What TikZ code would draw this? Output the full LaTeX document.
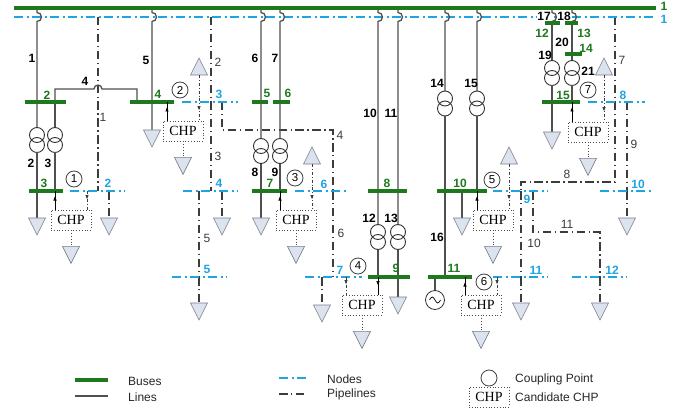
\documentclass[tikz,border=0pt]{standalone}
\usepackage{fontspec}
\setmainfont{Liberation Sans}
\newfontfamily\chpfont{Liberation Serif}
\usetikzlibrary{arrows.meta,decorations.markings}

\definecolor{busgreen}{RGB}{30,120,30}
\definecolor{nodeblue}{RGB}{28,165,225}
\definecolor{pipegray}{RGB}{60,60,60}
\definecolor{linegray}{RGB}{80,80,80}
\definecolor{loadfill}{RGB}{220,226,238}
\definecolor{loaddraw}{RGB}{120,126,138}

\begin{document}
\begin{tikzpicture}[x=1pt,y=-1pt,
  bus/.style={busgreen,line width=3.2pt},
  eline/.style={linegray,line width=1.3pt},
  gnode/.style={nodeblue,line width=2.2pt,dash pattern=on 9pt off 3.5pt on 2pt off 3.5pt},
  pipe/.style={pipegray,line width=1.4pt,dash pattern=on 8.5pt off 3.5pt on 1.4pt off 3.5pt},
  lno/.style={font=\fontsize{12}{13}\selectfont\bfseries,inner sep=0pt},
  bno/.style={lno,text=busgreen},
  gno/.style={lno,text=nodeblue},
  pno/.style={font=\fontsize{12}{13}\selectfont,text=pipegray,inner sep=0pt},
  cpl/.style={draw=black!75,line width=0.8pt,circle,minimum size=16pt,inner sep=0pt,font=\fontsize{11.5}{12}\selectfont},
  chp/.style={draw=black!70,dotted,line width=0.8pt,minimum width=40pt,minimum height=20pt,inner sep=0pt,font=\chpfont\fontsize{14}{14}\selectfont},
  efeed/.style={black,line width=0.6pt,postaction={decorate},
    decoration={markings,mark=at position #1 with {\arrow{Latex[length=4.5pt,width=3.5pt]}}}},
  efeed/.default=-5pt,
  gfeed/.style={pipegray,line width=0.8pt,dash pattern=on 3pt off 2pt on 0.8pt off 2pt,postaction={decorate},
    decoration={markings,mark=at position #1 with {\arrow{Latex[length=4.5pt,width=3.5pt]}}}},
  gfeed/.default=-10pt,
  chpout/.style={black!70,line width=0.8pt,dotted},
  leg/.style={font=\fontsize{12}{13}\selectfont,text=black!85,anchor=west,inner sep=0pt},
  dload/.pic={\draw[loaddraw,fill=loadfill,line width=0.6pt] (-8.5,0) -- (8.5,0) -- (0,17) -- cycle;},
  uload/.pic={\draw[loaddraw,fill=loadfill,line width=0.6pt] (-8.5,0) -- (8.5,0) -- (0,-17) -- cycle;},
  trafo/.pic={\draw[black!80,line width=0.9pt] (0,-5) circle[radius=7.5] (0,5) circle[radius=7.5];}
]
\useasboundingbox (0,0) rectangle (688,409);

% gas pipelines
\draw[pipe] (98,17) -- (98,191);
\draw[pipe] (211,17) -- (211,102);
\draw[pipe] (211,102) -- (211,191);
\draw[pipe] (222,102) -- (222,130) -- (333,130) -- (333,191);
\draw[pipe] (199,191) -- (199,277);
\draw[pipe] (333,191) -- (333,277);
\draw[pipe] (615,17) -- (615,102);
\draw[pipe] (615,102) -- (615,182) -- (521,182) -- (521,191);
\draw[pipe] (627,102) -- (627,191);
\draw[pipe] (521,191) -- (521,277);
\draw[pipe] (533,191) -- (533,232) -- (600,232) -- (600,277);

% gas loads
\draw[pipe] (109,191) -- (109,218);
\pic at (109,218) {dload};
\draw[pipe] (222,191) -- (222,218);
\pic at (222,218) {dload};
\draw[pipe] (199,277) -- (199,303);
\pic at (199,303) {dload};
\draw[pipe] (322,277) -- (322,305);
\pic at (322,305) {dload};
\draw[pipe] (627,191) -- (627,218);
\pic at (627,218) {dload};
\draw[pipe] (521,277) -- (521,303);
\pic at (521,303) {dload};
\draw[pipe] (600,277) -- (600,303);
\pic at (600,303) {dload};

% gas nodes
\draw[gnode] (14,17) -- (656,17);
\draw[gnode] (70,191) -- (125,191);
\draw[gnode] (182,102) -- (238,102);
\draw[gnode] (183,191) -- (238,191);
\draw[gnode] (172,277) -- (227,277);
\draw[gnode] (295,191) -- (348,191);
\draw[gnode] (305,277) -- (362,277);
\draw[gnode] (588,102) -- (645,102);
\draw[gnode] (493,191) -- (548,191);
\draw[gnode] (600,191) -- (653,191);
\draw[gnode] (493,277) -- (548,277);
\draw[gnode] (572,277) -- (627,277);

% electric lines
\draw[eline] (37,8) -- (37,12.5) arc[start angle=-90,end angle=90,radius=4.5] -- (37,127.5);
\pic at (37,140) {trafo};
\draw[eline] (37,152.5) -- (37,218);
\pic at (37,218) {dload};
\draw[eline] (55,102) -- (55,127.5);
\pic at (55,140) {trafo};
\draw[eline] (55,152.5) -- (55,191);
\draw[eline] (55,102) -- (55,89) -- (94,89) arc[start angle=180,end angle=360,radius=4] -- (137,89) -- (137,102);

\draw[eline] (152,8) -- (152,12.5) arc[start angle=-90,end angle=90,radius=4.5] -- (152,130);
\pic at (152,130) {dload};

\draw[eline] (261,8) -- (261,12.5) arc[start angle=-90,end angle=90,radius=4.5] -- (261,138.5);
\pic at (261,151) {trafo};
\draw[eline] (261,163.5) -- (261,218);
\pic at (261,218) {dload};
\draw[eline] (280,8) -- (280,12.5) arc[start angle=-90,end angle=90,radius=4.5] -- (280,138.5);
\pic at (280,151) {trafo};
\draw[eline] (280,163.5) -- (280,191);

\draw[eline] (378,8) -- (378,12.5) arc[start angle=-90,end angle=90,radius=4.5] -- (378,224.5);
\pic at (378,237) {trafo};
\draw[eline] (378,249.5) -- (378,277);
\draw[eline] (398,8) -- (398,12.5) arc[start angle=-90,end angle=90,radius=4.5] -- (398,224.5);
\pic at (398,237) {trafo};
\draw[eline] (398,249.5) -- (398,297);
\pic at (398,297) {dload};

\draw[eline] (445,8) -- (445,12.5) arc[start angle=-90,end angle=90,radius=4.5] -- (445,91);
\pic at (445,103.5) {trafo};
\draw[eline] (445,116) -- (445,277);
\draw[eline] (477,8) -- (477,12.5) arc[start angle=-90,end angle=90,radius=4.5] -- (477,91);
\pic at (477,103.5) {trafo};
\draw[eline] (477,116) -- (477,191);
\draw[eline] (462,191) -- (462,218);
\pic at (462,218) {dload};

\node[draw=black!80,circle,line width=0.8pt,minimum size=19pt,inner sep=0pt] (gen) at (435,300) {};
\draw[eline] (435,277) -- (gen.north);
\draw[line width=0.7pt] ([xshift=-5.5pt]gen.center) sin ++(2.75,-3) cos ++(2.75,3) sin ++(2.75,3) cos ++(2.75,-3);

\draw[eline] (552,8) -- (552,12.5) arc[start angle=-90,end angle=90,radius=4.5] -- (552,23);
\draw[eline] (572,8) -- (572,12.5) arc[start angle=-90,end angle=90,radius=4.5] -- (572,23);
\draw[eline] (552,23) -- (552,60.5);
\pic at (552,73) {trafo};
\draw[eline] (552,85.5) -- (552,132);
\pic at (552,132) {dload};
\draw[eline] (572,23) -- (572,60.5);
\pic at (572,73) {trafo};
\draw[eline] (572,85.5) -- (572,102);

% buses
\draw[bus] (14,8) -- (656,8);
\draw[bus] (25,102) -- (66,102);
\draw[bus] (29,191) -- (63,191);
\draw[bus] (130,102) -- (174,102);
\draw[bus] (252,102) -- (268,102);
\draw[bus] (273,102) -- (290,102);
\draw[bus] (252,191) -- (287,191);
\draw[bus] (368,191) -- (407,191);
\draw[bus] (368,277) -- (410,277);
\draw[bus] (437,191) -- (487,191);
\draw[bus] (428,277) -- (472,277);
\draw[bus] (545,23) -- (560,23);
\draw[bus] (565,23) -- (578,23);
\draw[bus] (565,54) -- (582,54);
\draw[bus] (542,102) -- (580,102);

% candidate CHPs
\node[chp] (chp1) at (71,220) {CHP};
\node[chp] (chp2) at (183,131) {CHP};
\node[chp] (chp3) at (296,220) {CHP};
\node[chp] (chp4) at (362,305) {CHP};
\node[chp] (chp5) at (493,220) {CHP};
\node[chp] (chp6) at (481,305) {CHP};
\node[chp] (chp7) at (588,132) {CHP};

\coordinate (e1) at (55,191);
\coordinate (e2) at (167,102);
\coordinate (e3) at (280,191);
\coordinate (e4) at (378,277);
\coordinate (e5) at (477,191);
\coordinate (e6) at (465,277);
\coordinate (e7) at (572,102);
\coordinate (g1) at (87,191);
\coordinate (g2) at (199,75);
\coordinate (g3) at (312,164);
\coordinate (g4) at (346,277);
\coordinate (g5) at (509,164);
\coordinate (g6) at (497,277);
\coordinate (g7) at (604,75);

\draw[efeed] (e1 |- chp1.north) -- (e1);
\draw[efeed] (e2 |- chp2.north) -- (e2);
\draw[efeed] (e3 |- chp3.north) -- (e3);
\draw[efeed=-9pt] (e4) -- (e4 |- chp4.north);
\draw[efeed] (e5 |- chp5.north) -- (e5);
\draw[efeed] (e6 |- chp6.north) -- (e6);
\draw[efeed] (e7 |- chp7.north) -- (e7);

\pic at (g2) {uload};
\pic at (g3) {uload};
\pic at (g5) {uload};
\pic at (g7) {uload};
\draw[gfeed] (g1) -- (g1 |- chp1.north);
\draw[gfeed] (g2) -- (g2 |- chp2.north);
\draw[gfeed] (g3) -- (g3 |- chp3.north);
\draw[gfeed] (g4) -- (g4 |- chp4.north);
\draw[gfeed] (g5) -- (g5 |- chp5.north);
\draw[gfeed] (g6) -- (g6 |- chp6.north);
\draw[gfeed] (g7) -- (g7 |- chp7.north);

\draw[chpout] (chp1.south) -- ++(0,16) coordinate (o1);
\pic at (o1) {dload};
\draw[chpout] (chp2.south) -- ++(0,16) coordinate (o2);
\pic at (o2) {dload};
\draw[chpout] (chp3.south) -- ++(0,16) coordinate (o3);
\pic at (o3) {dload};
\draw[chpout] (chp4.south) -- ++(0,16) coordinate (o4);
\pic at (o4) {dload};
\draw[chpout] (chp5.south) -- ++(0,16) coordinate (o5);
\pic at (o5) {dload};
\draw[chpout] (chp6.south) -- ++(0,16) coordinate (o6);
\pic at (o6) {dload};
\draw[chpout] (chp7.south) -- ++(0,16) coordinate (o7);
\pic at (o7) {dload};

% coupling points
\node[cpl] (cp1) at (74,179) {1};
\node[cpl] (cp2) at (180,90) {2};
\node[cpl] (cp3) at (295,178) {3};
\node[cpl] (cp4) at (358,266) {4};
\node[cpl] (cp5) at (492,180) {5};
\node[cpl] (cp6) at (484,282) {6};
\node[cpl] (cp7) at (588,90) {7};

% line numbers
\node[lno] (ln1) at (32,58) {1};
\node[lno] (ln2) at (31,163) {2};
\node[lno] (ln3) at (48,163) {3};
\node[lno] (ln4) at (85,81) {4};
\node[lno] (ln5) at (146,60) {5};
\node[lno] (ln6) at (255,58) {6};
\node[lno] (ln7) at (275,58) {7};
\node[lno] (ln8) at (255,172) {8};
\node[lno] (ln9) at (275,172) {9};
\node[lno] (ln10) at (370,113) {10};
\node[lno] (ln11) at (391,113) {11};
\node[lno] (ln12) at (369,218) {12};
\node[lno] (ln13) at (391,218) {13};
\node[lno] (ln14) at (437,83) {14};
\node[lno] (ln15) at (471,83) {15};
\node[lno] (ln16) at (437,237) {16};
\node[lno,fill=white,inner sep=0.5pt] (ln17) at (544,16) {17};
\node[lno,fill=white,inner sep=0.5pt] (ln18) at (564,16) {18};
\node[lno] (ln19) at (545,55) {19};
\node[lno] (ln20) at (562,42) {20};
\node[lno] (ln21) at (588,71) {21};

% bus numbers
\node[bno] (bn1) at (664,6) {1};
\node[bno] (bn2) at (47,95) {2};
\node[bno] (bn3) at (44,183) {3};
\node[bno] (bn4) at (158,94) {4};
\node[bno] (bn5) at (267,93) {5};
\node[bno] (bn6) at (288,93) {6};
\node[bno] (bn7) at (270,183) {7};
\node[bno] (bn8) at (387,183) {8};
\node[bno] (bn9) at (396,268) {9};
\node[bno] (bn10) at (460,183) {10};
\node[bno] (bn11) at (454,268) {11};
\node[bno] (bn12) at (542,33) {12};
\node[bno] (bn13) at (584,33) {13};
\node[bno] (bn14) at (586,48) {14};
\node[bno] (bn15) at (563,95) {15};

% node numbers
\node[gno] (gn1) at (664,19) {1};
\node[gno] (gn2) at (108,183) {2};
\node[gno] (gn3) at (219,94) {3};
\node[gno] (gn4) at (219,183) {4};
\node[gno] (gn5) at (207,269) {5};
\node[gno] (gn6) at (324,184) {6};
\node[gno] (gn7) at (340,270) {7};
\node[gno] (gn8) at (623,95) {8};
\node[gno] (gn9) at (527,199) {9};
\node[gno] (gn10) at (638,184) {10};
\node[gno] (gn11) at (536,270) {11};
\node[gno] (gn12) at (612,270) {12};

% pipeline numbers
\node[pno] (pn1) at (103,117) {1};
\node[pno] (pn2) at (218,62) {2};
\node[pno] (pn3) at (218,156) {3};
\node[pno] (pn4) at (340,135) {4};
\node[pno] (pn5) at (207,238) {5};
\node[pno] (pn6) at (341,233) {6};
\node[pno] (pn7) at (622,60) {7};
\node[pno] (pn8) at (567,174) {8};
\node[pno] (pn9) at (634,144) {9};
\node[pno] (pn10) at (534,243) {10};
\node[pno] (pn11) at (567,224) {11};

% legend
\draw[bus] (75,380) -- (108,380);
\node[leg] (lgbus) at (128,381) {Buses};
\draw[eline] (75,396) -- (108,396);
\node[leg] (lgline) at (128,397) {Lines};
\draw[gnode] (279,378) -- (307,378);
\node[leg] (lgnode) at (327,379) {Nodes};
\draw[pipe] (279,394) -- (307,394);
\node[leg] (lgpipe) at (327,394) {Pipelines};
\node[cpl] (lgcp) at (489,378) {};
\node[leg] (lgcptext) at (515,379) {Coupling Point};
\node[chp] (lgchp) at (489,397) {CHP};
\node[leg] (lgchptext) at (515,397) {Candidate CHP};

\end{tikzpicture}
\end{document}
